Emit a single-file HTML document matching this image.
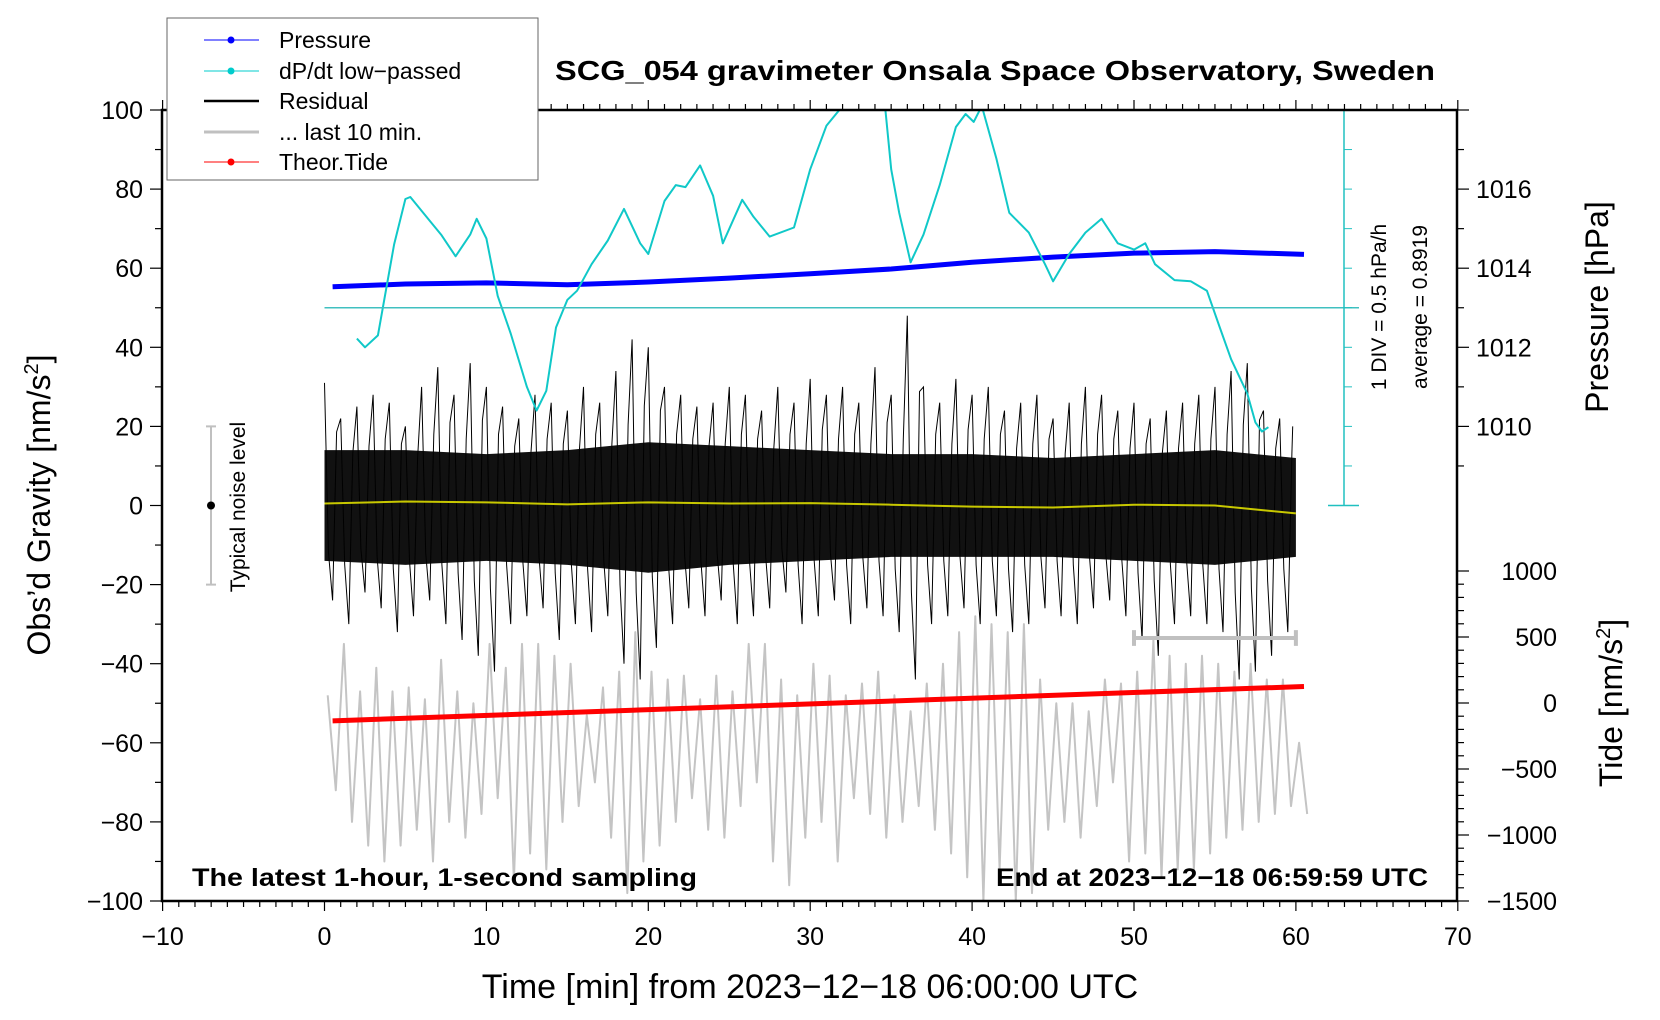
<!DOCTYPE html>
<html><head><meta charset="utf-8"><style>
html,body{margin:0;padding:0;background:#fff;}
svg{display:block;font-family:"Liberation Sans",sans-serif;}
</style></head><body>
<svg id="chart" width="1660" height="1020" viewBox="0 0 1660 1020" xmlns="http://www.w3.org/2000/svg">
<defs><clipPath id="plotclip"><rect x="162" y="110" width="1295" height="791"/></clipPath></defs>
<g id="marks" clip-path="url(#plotclip)"></g>
<g id="axes"></g>
<text x="995" y="80" text-anchor="middle" font-size="28" font-weight="bold" textLength="880" lengthAdjust="spacingAndGlyphs">SCG_054 gravimeter Onsala Space Observatory, Sweden</text>
<text x="810" y="998" text-anchor="middle" font-size="34">Time [min] from 2023−12−18 06:00:00 UTC</text>
<text transform="translate(50,505) rotate(-90)" text-anchor="middle" font-size="32">Obs’d Gravity [nm/s<tspan font-size="20" dy="-12">2</tspan><tspan dy="12">]</tspan></text>
<text transform="translate(1608,307) rotate(-90)" text-anchor="middle" font-size="32">Pressure [hPa]</text>
<text transform="translate(1622,703) rotate(-90)" text-anchor="middle" font-size="32">Tide [nm/s<tspan font-size="20" dy="-12">2</tspan><tspan dy="12">]</tspan></text>
<text transform="translate(1386,307) rotate(-90)" text-anchor="middle" font-size="21">1 DIV = 0.5 hPa/h</text>
<text transform="translate(1427,307) rotate(-90)" text-anchor="middle" font-size="21">average = 0.8919</text>
<text transform="translate(245,507) rotate(-90)" text-anchor="middle" font-size="21">Typical noise level</text>
<text x="192" y="886" font-size="25" font-weight="bold" textLength="505" lengthAdjust="spacingAndGlyphs">The latest 1-hour, 1-second sampling</text>
<text x="1428" y="886" text-anchor="end" font-size="25" font-weight="bold" textLength="432" lengthAdjust="spacingAndGlyphs">End at 2023−12−18 06:59:59 UTC</text>
<g>
<rect x="167" y="18" width="371" height="162" fill="#fff" stroke="#666" stroke-width="1"/>
<g><line x1="204" y1="40" x2="259" y2="40" stroke="#00f" stroke-width="1"/><circle cx="231" cy="40" r="3.5" fill="#00f"/><text x="279" y="48" font-size="23">Pressure</text></g>
<g><line x1="204" y1="71" x2="259" y2="71" stroke="#0cc" stroke-width="1"/><circle cx="231" cy="71" r="3.5" fill="#0cc"/><text x="279" y="79" font-size="23">dP/dt low−passed</text></g>
<g><line x1="204" y1="101" x2="259" y2="101" stroke="#000" stroke-width="2.5"/><text x="279" y="109" font-size="23">Residual</text></g>
<g><line x1="204" y1="132" x2="259" y2="132" stroke="#c0c0c0" stroke-width="3"/><text x="279" y="140" font-size="23">... last 10 min.</text></g>
<g><line x1="204" y1="162" x2="259" y2="162" stroke="#f00" stroke-width="1"/><circle cx="231" cy="162" r="3.5" fill="#f00"/><text x="279" y="170" font-size="23">Theor.Tide</text></g>
</g>
</svg>
<script>
// ---- data ----
const xTicks = [-10,0,10,20,30,40,50,60,70];
const gravTicks = [-100,-80,-60,-40,-20,0,20,40,60,80,100];
const pressTicks = [1010,1012,1014,1016];
const tideTicks = [-1500,-1000,-500,0,500,1000];
const pressMin = [0.5,5,10,15,20,25,30,35,40,45,50,55,60.5];
const pressVal = [1013.53,1013.6,1013.63,1013.58,1013.65,1013.75,1013.86,1013.98,1014.15,1014.28,1014.38,1014.42,1014.35];
const dpdtMin = [2.0,2.5,3.3,4.3,5.0,5.3,6.5,7.2,8.1,9.0,9.4,10.0,10.7,11.5,12.5,13.1,13.7,14.3,15.0,15.6,16.5,17.5,18.5,19.5,20.0,21.0,21.7,22.3,23.2,24.0,24.6,25.8,26.5,27.5,29.0,30.0,31.0,32.0,33.0,34.5,35.0,35.5,36.2,37.0,38.0,39.0,39.6,40.1,40.6,41.5,42.3,43.5,44.5,45.0,46.0,47.0,48.0,49.0,50.0,50.7,51.3,52.5,53.5,54.5,55.3,56.0,57.0,57.5,57.9,58.3];
const dpdtVal = [42.2,40,43,66,77.5,78,72,68.5,63,68.5,72.5,67.5,53,43.5,30,24,29,45,52,54.3,61,67,75,66.3,63.6,77,81,80.5,86,78.3,66.3,77.3,73,68,70.3,85,96,101,110,106,85,74,61.5,68.5,81,95.7,99,97,101,87.7,74,69,61,56.7,63.6,69,72.5,66.3,64.7,66.3,61,57,56.7,54.3,45,37,28.3,21,18.7,19.8];
const resHi = [31,22,25,28,26,20,30,35,28,36,30,25,22,28,26,24,30,26,34,42,40,30,28,25,26,30,28,24,30,26,32,28,30,26,35,28,48,30,26,32,28,30,24,26,28,22,26,30,28,24,26,22,24,26,28,30,34,36,24,22,20];
const resLo = [-24,-30,-22,-26,-32,-28,-24,-30,-34,-38,-42,-30,-28,-26,-34,-30,-32,-28,-40,-44,-36,-30,-26,-28,-24,-30,-28,-26,-22,-30,-28,-24,-30,-26,-28,-32,-44,-30,-28,-26,-30,-28,-32,-30,-26,-28,-30,-26,-24,-28,-34,-38,-30,-28,-30,-32,-44,-42,-38,-32,-26];
const coreMin = [0,5,10,15,20,25,30,35,40,45,50,55,60];
const coreHi = [14,14,13,14,16,15,14,13,13,12,13,14,12];
const coreLo = [-14,-15,-14,-15,-17,-15,-14,-13,-13,-13,-14,-15,-13];
const yelVal = [0.5,1,0.8,0.3,0.8,0.5,0.6,0.2,-0.3,-0.5,0.2,0,-2];
const grayHi = [-48,-35,-47,-41,-47,-46,-49,-39,-47,-50,-35,-41,-35,-35,-38,-40,-53,-46,-42,-32,-42,-44,-43,-49,-43,-47,-35,-35,-44,-48,-40,-43,-48,-45,-42,-48,-52,-45,-40,-32,-28,-30,-32,-30,-44,-50,-50,-52,-44,-45,-42,-34,-38,-40,-38,-40,-42,-40,-44,-44,-60];
const grayLo = [-72,-80,-86,-90,-86,-82,-90,-80,-84,-78,-74,-95,-88,-92,-80,-76,-70,-84,-98,-90,-86,-80,-74,-82,-84,-76,-70,-90,-96,-84,-80,-90,-74,-78,-84,-80,-76,-82,-88,-94,-100,-92,-100,-98,-82,-80,-84,-76,-70,-90,-88,-94,-92,-92,-88,-84,-82,-80,-78,-76,-78];
const tideMin = [0.5,60.5];
const tideVal = [-135,125];

// ---- axis functions ----
const X = m => 324.5 + m*16.19;
const Yg = v => 110 + (100 - v)*3.955;
const Yp = p => Yg(80 + (p - 1016)*10);
const Yt = t => 703 - t*0.132;
const NS = "http://www.w3.org/2000/svg";
const marksG = document.getElementById('marks');
const axesG = document.getElementById('axes');
function mk(tag, parent, attrs){const el=document.createElementNS(NS,tag);for(const k in attrs)el.setAttribute(k,attrs[k]);parent.appendChild(el);return el;}

let e;
e = mk('line', axesG, {x1:X(0),y1:Yg(50),x2:1359,y2:Yg(50),stroke:'#40c0c0','stroke-width':1.5});


e = mk('line', axesG, {x1:1344,y1:Yg(100),x2:1344,y2:Yg(0),stroke:'#20c0c0','stroke-width':1.5});


for(let v=0; v<=100; v+=10){
  if(v===0) mk('line',axesG,{x1:1328,y1:Yg(v),x2:1359,y2:Yg(v),stroke:'#20c0c0','stroke-width':1.5});
  else mk('line',axesG,{x1:1344,y1:Yg(v),x2:1352,y2:Yg(v),stroke:'#20c0c0','stroke-width':1});
}

// gray last 10 min
let d='';
for(let i=0;i<grayHi.length;i++){ d+=(i?'L':'M')+X(i+0.2).toFixed(1)+','+Yg(grayHi[i]).toFixed(1)+'L'+X(i+0.7).toFixed(1)+','+Yg(grayLo[i]).toFixed(1); }
e = mk('path', marksG, {d:d,fill:'none',stroke:'#c4c4c4','stroke-width':2,'stroke-linejoin':'round'});



// residual core band
let upperPath='', lowerPath='';
for(let i=0;i<coreMin.length;i++){ upperPath+=(i?'L':'M')+X(coreMin[i])+','+Yg(coreHi[i]); }
for(let i=coreMin.length-1;i>=0;i--){ lowerPath+='L'+X(coreMin[i])+','+Yg(coreLo[i]); }
e = mk('path', marksG, {d:upperPath+lowerPath+'Z',fill:'#111'});


// residual spikes
d='';
for(let i=0;i<resHi.length;i++){
  const m=Math.min(i,59.8);
  d+=(i?'L':'M')+X(m).toFixed(1)+','+Yg(resHi[i]).toFixed(1);
  if(i<resHi.length-1) d+='L'+X(i+0.25).toFixed(1)+','+Yg(resLo[i]*0.5).toFixed(1)+'L'+X(i+0.5).toFixed(1)+','+Yg(resLo[i]).toFixed(1)+'L'+X(i+0.75).toFixed(1)+','+Yg(resHi[i]*0.6).toFixed(1);
}
e = mk('path', marksG, {d:d,fill:'none',stroke:'#000','stroke-width':1});


// yellow smoothed
d='';
for(let i=0;i<coreMin.length;i++){ d+=(i?'L':'M')+X(coreMin[i])+','+Yg(yelVal[i]); }
e = mk('path', marksG, {d:d,fill:'none',stroke:'#c8c800','stroke-width':2});



// pressure
d='';
for(let i=0;i<pressMin.length;i++){ d+=(i?'L':'M')+X(pressMin[i])+','+Yp(pressVal[i]); }
e = mk('path', marksG, {d:d,fill:'none',stroke:'#00f','stroke-width':5});



// dp/dt
d='';
for(let i=0;i<dpdtMin.length;i++){ d+=(i?'L':'M')+X(dpdtMin[i]).toFixed(1)+','+Yg(dpdtVal[i]).toFixed(1); }
e = mk('path', marksG, {d:d,fill:'none',stroke:'#10c8c8','stroke-width':2,'stroke-linejoin':'round'});



// tide
e = mk('line', marksG, {x1:X(tideMin[0]),y1:Yt(tideVal[0]),x2:X(tideMin[1]),y2:Yt(tideVal[1]),stroke:'#f00','stroke-width':5});



// gray 10-min bar
e = mk('path', axesG, {d:`M${X(50)},${Yg(-33.5)}H${X(60)}M${X(50)},${Yg(-31.5)}V${Yg(-35.5)}M${X(60)},${Yg(-31.5)}V${Yg(-35.5)}`,stroke:'#c0c0c0','stroke-width':4,fill:'none'});



// noise indicator
e = mk('path', axesG, {d:`M206,${Yg(20)}H216M211,${Yg(20)}V${Yg(-20)}M206,${Yg(-20)}H216`,stroke:'#c0c0c0','stroke-width':2,fill:'none'});


e = mk('circle', axesG, {cx:211,cy:Yg(0),r:4,fill:'#000'});



// frame
e = mk('rect', axesG, {x:162,y:110,width:1295,height:791,fill:'none',stroke:'#000','stroke-width':2.5});



// x ticks
for(let m=-10;m<=70;m++){
  const maj = m%10===0;
  mk('line',axesG,{x1:X(m),y1:901,x2:X(m),y2:901+(maj?10:6),stroke:'#000','stroke-width':1.2});
  mk('line',axesG,{x1:X(m),y1:110,x2:X(m),y2:110-(maj?10:6),stroke:'#000','stroke-width':1.2});
}
for(const t of xTicks){
  e=mk('text',axesG,{x:X(t),y:945,'text-anchor':'middle','font-size':25}); e.textContent=String(t).replace('-','−');
  
  
}
// left ticks
for(let v=-100;v<=100;v+=10){ mk('line',axesG,{x1:162,y1:Yg(v),x2:v%20===0?150:155,y2:Yg(v),stroke:'#000','stroke-width':1.2}); }
for(const t of gravTicks){
  e=mk('text',axesG,{x:143,y:Yg(t)+9,'text-anchor':'end','font-size':25}); e.textContent=String(t).replace('-','−');
  
  
}
// pressure ticks
for(let p=1008;p<=1018;p++){ const y=Yp(p); if(y<110||y>505) continue; mk('line',axesG,{x1:1457,y1:y,x2:p%2===0?1469:1464,y2:y,stroke:'#000','stroke-width':1.2}); }
for(const t of pressTicks){
  e=mk('text',axesG,{x:1476,y:Yp(t)+9,'font-size':25}); e.textContent=t;
  
  
}
// tide ticks
for(let t=-1500;t<=1000;t+=100){ mk('line',axesG,{x1:1457,y1:Yt(t),x2:t%500===0?1469:1464,y2:Yt(t),stroke:'#000','stroke-width':1.2}); }
for(const t of tideTicks){
  e=mk('text',axesG,{x:1557,y:Yt(t)+9,'text-anchor':'end','font-size':25}); e.textContent=String(t).replace('-','−');
  
  
}
</script>
</body></html>
